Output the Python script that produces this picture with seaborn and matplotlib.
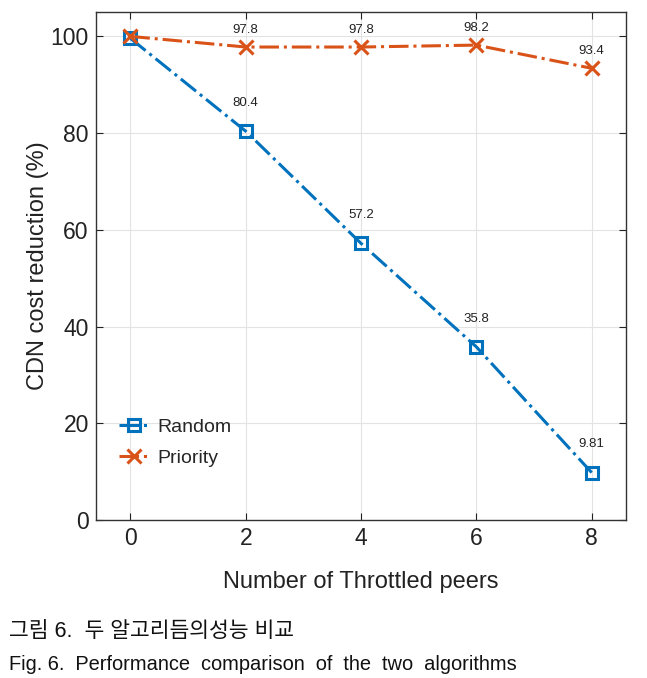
import numpy as np
import pandas as pd
import matplotlib
matplotlib.use('Agg')
import matplotlib.pyplot as plt
import seaborn as sns

# data
peers = [0, 2, 4, 6, 8]
random_vals = [99.6, 80.4, 57.2, 35.8, 9.81]
priority_vals = [100, 97.8, 97.8, 98.2, 93.4]
random_labels = ['', '80.4', '57.2', '35.8', '9.81']
priority_labels = ['', '97.8', '97.8', '98.2', '93.4']

sns.set_style('whitegrid')
plt.rcParams['font.family'] = ['Liberation Sans', 'Noto Sans CJK KR', 'DejaVu Sans']

fig = plt.figure(figsize=(6.47, 6.78), dpi=100)
ax = fig.add_axes([0.148, 0.233, 0.820, 0.749])

blue = '#0072BD'
orange = '#D95319'

sns.lineplot(x=peers, y=random_vals, ax=ax, color=blue, linestyle='-.', linewidth=2.2,
             marker='s', markersize=8, markerfacecolor='none', markeredgecolor=blue,
             markeredgewidth=2.2, label='Random')
sns.lineplot(x=peers, y=priority_vals, ax=ax, color=orange, linestyle='-.', linewidth=2.2,
             marker='x', markersize=10, markeredgecolor=orange, markeredgewidth=2.2,
             label='Priority')

for x, y, t in zip(peers, random_vals, random_labels):
    if t:
        ax.annotate(t, (x, y), xytext=(0, 16), textcoords='offset points',
                    ha='center', va='bottom', fontsize=9.5, color='#222222')
for x, y, t in zip(peers, priority_vals, priority_labels):
    if t:
        ax.annotate(t, (x, y), xytext=(0, 8), textcoords='offset points',
                    ha='center', va='bottom', fontsize=9.5, color='#222222')

ax.set_xlim(-0.6, 8.6)
ax.set_ylim(0, 105)
ax.set_xticks([0, 2, 4, 6, 8])
ax.set_yticks([0, 20, 40, 60, 80, 100])
ax.tick_params(labelsize=16.5, colors='#222222', direction='in', length=5, pad=5,
               left=True, bottom=True, top=True, right=True)
ax.grid(color='#e3e3e3', linewidth=0.8)
for s in ax.spines.values():
    s.set_color('#333333')
    s.set_linewidth(1)
ax.set_xlabel('Number of Throttled peers', fontsize=17, color='#222222', labelpad=15)
ax.set_ylabel('CDN cost reduction (%)', fontsize=17, color='#222222', labelpad=1)

ax.legend(loc='lower left', bbox_to_anchor=(0.01, 0.07), frameon=False, fontsize=14,
          handlelength=1.6, handletextpad=0.4, labelspacing=0.7)

fig.text(0.014, 0.060, '그림 6.  두 알고리듬의성능 비교', fontsize=15.5, color='#111111')
fig.text(0.014, 0.012, 'Fig. 6.  Performance  comparison  of  the  two  algorithms',
         fontsize=14.4, color='#111111')

fig.savefig('out.png', dpi=100)
